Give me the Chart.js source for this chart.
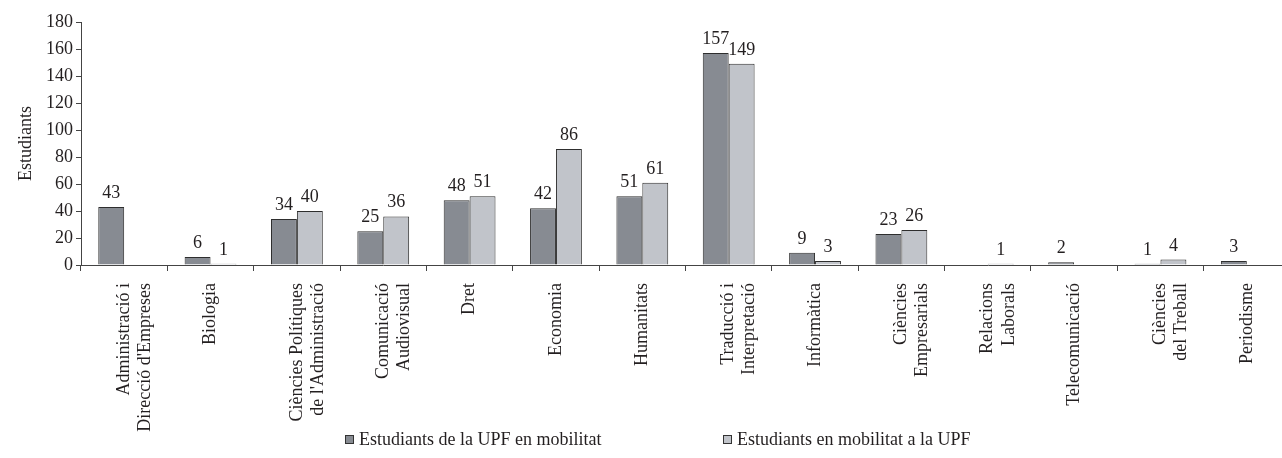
<!DOCTYPE html>
<html><head><meta charset="utf-8">
<script src="https://cdn.jsdelivr.net/npm/chart.js@4.4.0/dist/chart.umd.min.js"></script>
<style>html,body{margin:0;padding:0;background:#fff;overflow:hidden;}#wrap{width:1290px;height:458px;}</style>
</head><body><div id="wrap"><canvas id="c" width="1290" height="458"></canvas></div>
<script>
const categories = [
  ['Administració i', "Direcció d'Empreses"],
  'Biologia',
  ['Ciències Polítiques', "de l'Administració"],
  ['Comunicació', 'Audiovisual'],
  'Dret',
  'Economia',
  'Humanitats',
  ['Traducció i', 'Interpretació'],
  'Informàtica',
  ['Ciències', 'Empresarials'],
  ['Relacions', 'Laborals'],
  'Telecomunicació',
  ['Ciències', 'del Treball'],
  'Periodisme'
];
const upfOutgoing = [43, 6, 34, 25, 48, 42, 51, 157, 9, 23, null, 2, 1, 3];
const upfIncoming = [null, 1, 40, 36, 51, 86, 61, 149, 3, 26, 1, null, 4, null];
const seriesNames = ['Estudiants de la UPF en mobilitat', 'Estudiants en mobilitat a la UPF'];
const yAxisTitle = 'Estudiants';
const yMin = 0, yMax = 180, yStep = 20;

const FONT = '"Liberation Serif", "Times New Roman", serif';
const FS = 18;
const TXT = '#231f20';
const colors = ['#878b92', '#c1c4ca'];

const valueLabels = {
  id: 'valueLabels',
  afterDatasetsDraw(chart) {
    const ctx = chart.ctx;
    ctx.save();
    ctx.font = FS + 'px ' + FONT;
    ctx.fillStyle = TXT;
    ctx.textAlign = 'center';
    ctx.textBaseline = 'alphabetic';
    chart.data.datasets.forEach((ds, i) => {
      const meta = chart.getDatasetMeta(i);
      meta.data.forEach((bar, j) => {
        const v = ds.data[j];
        if (v == null) return;
        ctx.fillText(String(v), bar.x, bar.y - 9);
      });
    });
    ctx.restore();
  }
};

const customLegend = {
  id: 'customLegend',
  afterDraw(chart) {
    const ctx = chart.ctx;
    ctx.save();
    ctx.font = FS + 'px ' + FONT;
    ctx.textBaseline = 'middle';
    ctx.textAlign = 'left';
    const y = 440;
    const starts = [345, 723];
    chart.data.datasets.forEach((ds, i) => {
      const x = starts[i];
      ctx.fillStyle = ds.backgroundColor;
      ctx.fillRect(x, y - 5, 9, 9);
      ctx.strokeStyle = '#333';
      ctx.lineWidth = 1;
      ctx.strokeRect(x + 0.5, y - 4.5, 8, 8);
      ctx.fillStyle = TXT;
      ctx.fillText(ds.label, x + 14, y);
    });
    ctx.restore();
  }
};

new Chart(document.getElementById('c'), {
  type: 'bar',
  data: {
    labels: categories,
    datasets: [
      { label: seriesNames[0], data: upfOutgoing, backgroundColor: colors[0], borderColor: '#2e2e2e', borderWidth: 1 },
      { label: seriesNames[1], data: upfIncoming, backgroundColor: colors[1], borderColor: '#2e2e2e', borderWidth: 1 }
    ]
  },
  options: {
    responsive: false,
    animation: false,
    devicePixelRatio: 1,
    layout: { padding: { top: 22, left: 0, right: 0, bottom: 8 } },
    datasets: { bar: { categoryPercentage: 0.6, barPercentage: 1.0 } },
    plugins: { legend: { display: false }, tooltip: { enabled: false } },
    scales: {
      x: {
        afterFit(s) { s.height = 185; },
        border: { display: true, color: '#444', width: 1 },
        grid: { display: true, drawOnChartArea: false, drawTicks: true, tickLength: 6, color: '#444', offset: true },
        ticks: { autoSkip: false, minRotation: 90, maxRotation: 90, padding: 12, color: TXT, font: { family: FONT, size: FS, lineHeight: 1.17 } }
      },
      y: {
        min: yMin, max: yMax,
        afterFit(s) { s.width = 81; },
        border: { display: true, color: '#444', width: 1 },
        grid: { display: true, drawOnChartArea: false, drawTicks: true, tickLength: 5, color: '#444' },
        ticks: { stepSize: yStep, padding: 3, color: TXT, font: { family: FONT, size: FS } },
        title: { display: true, text: yAxisTitle, color: TXT, font: { family: FONT, size: FS }, padding: { top: 15, bottom: 0 } }
      }
    }
  },
  plugins: [valueLabels, customLegend]
});
</script>
</body></html>
